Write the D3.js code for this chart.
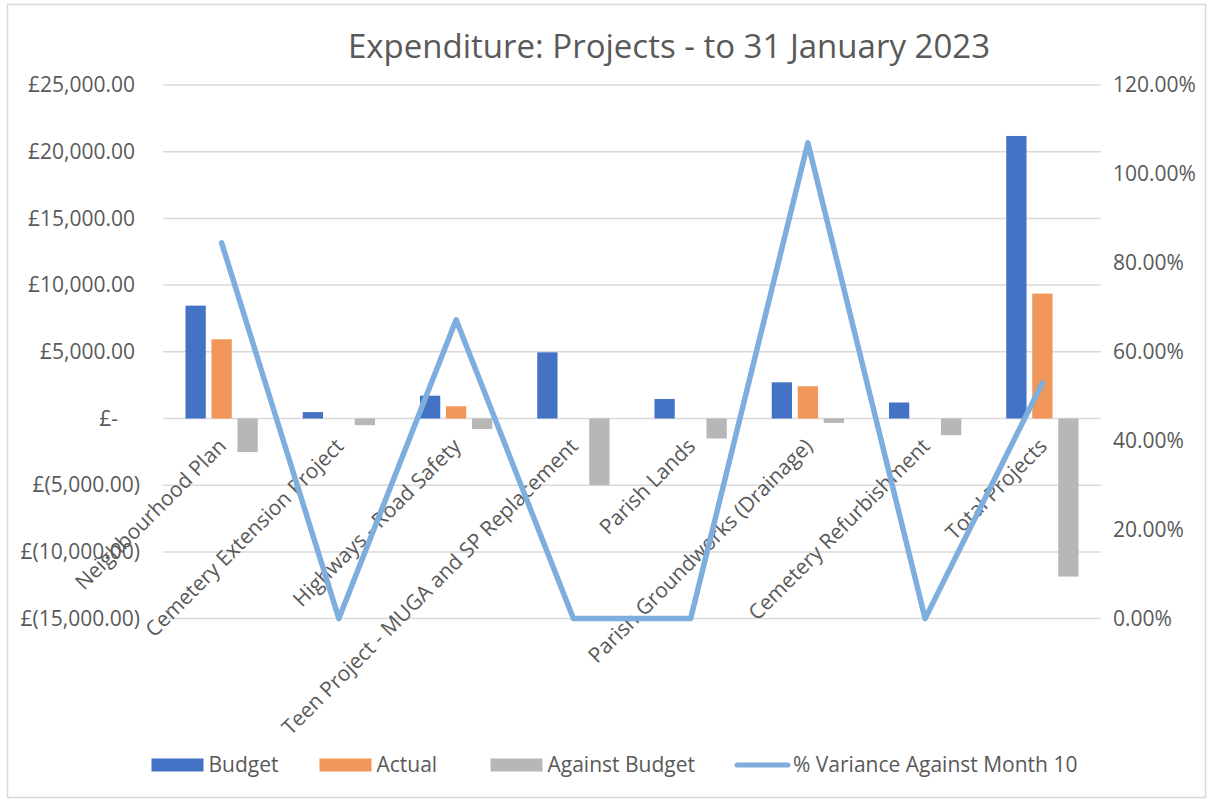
<!DOCTYPE html>
<html>
<head>
<meta charset="utf-8">
<script src="https://cdn.jsdelivr.net/npm/d3@7"></script>
<style>
  body { margin: 0; background: #fff; }
  svg { font-family: "Open Sans", "Noto Sans", sans-serif; }
  .lbl { fill: #595959; }
</style>
</head>
<body>
<div id="chart"></div>
<script>
// chart data
var categories = ["Neighbourhood Plan", "Cemetery Extension Project", "Highways - Road Safety",
    "Teen Project - MUGA and SP Replacement", "Parish Lands", "Parish Groundworks (Drainage)",
    "Cemetery Refurbishment", "Total Projects"];
var budget = [8460, 480, 1710, 4960, 1460, 2715, 1200, 21180];
var actual = [5940, 0, 915, 0, 0, 2415, 0, 9360];
var againstBudget = [-2520, -500, -790, -5000, -1500, -330, -1250, -11850];
var pctVariance = [0.845, 0, 0.672, 0, 0, 1.07, 0, 0.53];

var seriesNames = ["Budget", "Actual", "Against Budget"];
var lineName = "% Variance Against Month 10";
var leftTicks = [-15000, -10000, -5000, 0, 5000, 10000, 15000, 20000, 25000];
var leftTickLabels = ["£(15,000.00)", "£(10,000.00)", "£(5,000.00)", "£-", "£5,000.00",
    "£10,000.00", "£15,000.00", "£20,000.00", "£25,000.00"];
var rightTicks = [0, 0.2, 0.4, 0.6, 0.8, 1.0, 1.2];
var rightTickLabels = ["0.00%", "20.00%", "40.00%", "60.00%", "80.00%", "100.00%", "120.00%"];
var title = "Expenditure: Projects - to 31 January 2023";

var colors = {"Budget": "#4472C4", "Actual": "#F2975A", "Against Budget": "#B7B7B7"};
var lineColor = "#7DAEDD";

// dimensions
var width = 1211, height = 801;
var plot = {left: 163, right: 1101, top: 85, bottom: 618.6};

var svg = d3.select("#chart")
    .append("svg")
    .attr("width", width)
    .attr("height", height);

// chart border
svg.append("rect")
    .attr("x", 7.5).attr("y", 4.5)
    .attr("width", 1198).attr("height", 793)
    .attr("fill", "#fff")
    .attr("stroke", "#D9D9D9")
    .attr("stroke-width", 1.5);

// scales
var y = d3.scaleLinear().domain([-15000, 25000]).range([plot.bottom, plot.top]);
var y2 = d3.scaleLinear().domain([0, 1.2]).range([plot.bottom, plot.top]);
var x0 = d3.scaleBand().domain(categories).range([plot.left, plot.right]).padding(0);
var x1 = d3.scaleBand().domain(seriesNames).range([0, 72.3]).paddingInner(0.22).paddingOuter(0);

// gridlines
svg.append("g")
    .selectAll("line")
    .data(leftTicks)
    .enter().append("line")
    .attr("x1", plot.left).attr("x2", plot.right)
    .attr("y1", function(d) { return y(d); })
    .attr("y2", function(d) { return y(d); })
    .attr("stroke", "#D9D9D9")
    .attr("stroke-width", 1.5);

// left axis
var leftAxis = svg.append("g")
    .attr("transform", "translate(140,0)")
    .call(d3.axisLeft(y).tickValues(leftTicks).tickSize(0).tickPadding(0)
        .tickFormat(function(d, i) { return leftTickLabels[i]; }));
leftAxis.select(".domain").remove();
leftAxis.selectAll("text")
    .attr("class", "lbl")
    .style("font-size", "21px")
    .style("font-family", "Open Sans")
    .attr("dx", function(d, i) {
        var t = leftTickLabels[i];
        if (t == "£-") return -22;
        return t.indexOf(")") >= 0 ? 0 : -5;
    });

// right axis
var rightAxis = svg.append("g")
    .attr("transform", "translate(1113,0)")
    .call(d3.axisRight(y2).tickValues(rightTicks).tickSize(0).tickPadding(0)
        .tickFormat(function(d, i) { return rightTickLabels[i]; }));
rightAxis.select(".domain").remove();
rightAxis.selectAll("text")
    .attr("class", "lbl")
    .style("font-size", "21px")
    .style("font-family", "Open Sans");

// bars
var rows = categories.map(function(c, i) {
    return {cat: c, values: [
        {key: "Budget", v: budget[i]},
        {key: "Actual", v: actual[i]},
        {key: "Against Budget", v: againstBudget[i]}
    ]};
});

svg.append("g")
    .selectAll("g")
    .data(rows)
    .enter().append("g")
    .attr("transform", function(d) { return "translate(" + (x0(d.cat) + x0.bandwidth() / 2 - 36.15) + ",0)"; })
    .selectAll("rect")
    .data(function(d) { return d.values.filter(function(e) { return e.v != 0; }); })
    .enter().append("rect")
    .attr("x", function(d) { return x1(d.key); })
    .attr("width", x1.bandwidth())
    .attr("y", function(d) { return y(Math.max(0, d.v)); })
    .attr("height", function(d) { return Math.abs(y(d.v) - y(0)); })
    .attr("fill", function(d) { return colors[d.key]; });

// category labels (rotated)
svg.append("g")
    .selectAll("text")
    .data(categories)
    .enter().append("text")
    .attr("class", "lbl")
    .attr("text-anchor", "end")
    .style("font-size", "21px")
    .attr("transform", function(d) {
        return "translate(" + (x0(d) + x0.bandwidth() / 2 + 6) + "," + (y(0) + 29) + ") rotate(-45)";
    })
    .text(function(d) { return d; });

// variance line
var line = d3.line()
    .x(function(d, i) { return x0(categories[i]) + x0.bandwidth() / 2; })
    .y(function(d) { return y2(d); });

svg.append("path")
    .datum(pctVariance)
    .attr("d", line)
    .attr("fill", "none")
    .attr("stroke", lineColor)
    .attr("stroke-width", 5.5)
    .attr("stroke-linejoin", "round")
    .attr("stroke-linecap", "round");

// title
svg.append("text")
    .attr("class", "lbl")
    .attr("x", 669)
    .attr("y", 58)
    .attr("text-anchor", "middle")
    .style("font-size", "33px")
    .text(title);

// legend
var legendX = [151.5, 319.5, 490.5];
var legend = svg.append("g");
seriesNames.forEach(function(s, i) {
    legend.append("rect")
        .attr("x", legendX[i]).attr("y", 758.5)
        .attr("width", 52).attr("height", 13)
        .attr("fill", colors[s]);
    legend.append("text")
        .attr("class", "lbl")
        .attr("x", legendX[i] + 57).attr("y", 772)
        .style("font-size", "21px")
        .text(s);
});
legend.append("line")
    .attr("x1", 737).attr("x2", 788)
    .attr("y1", 765).attr("y2", 765)
    .attr("stroke", lineColor)
    .attr("stroke-width", 5)
    .attr("stroke-linecap", "round");
legend.append("text")
    .attr("class", "lbl")
    .attr("x", 793).attr("y", 772)
    .style("font-size", "21px")
    .text(lineName);
</script>
</body>
</html>
